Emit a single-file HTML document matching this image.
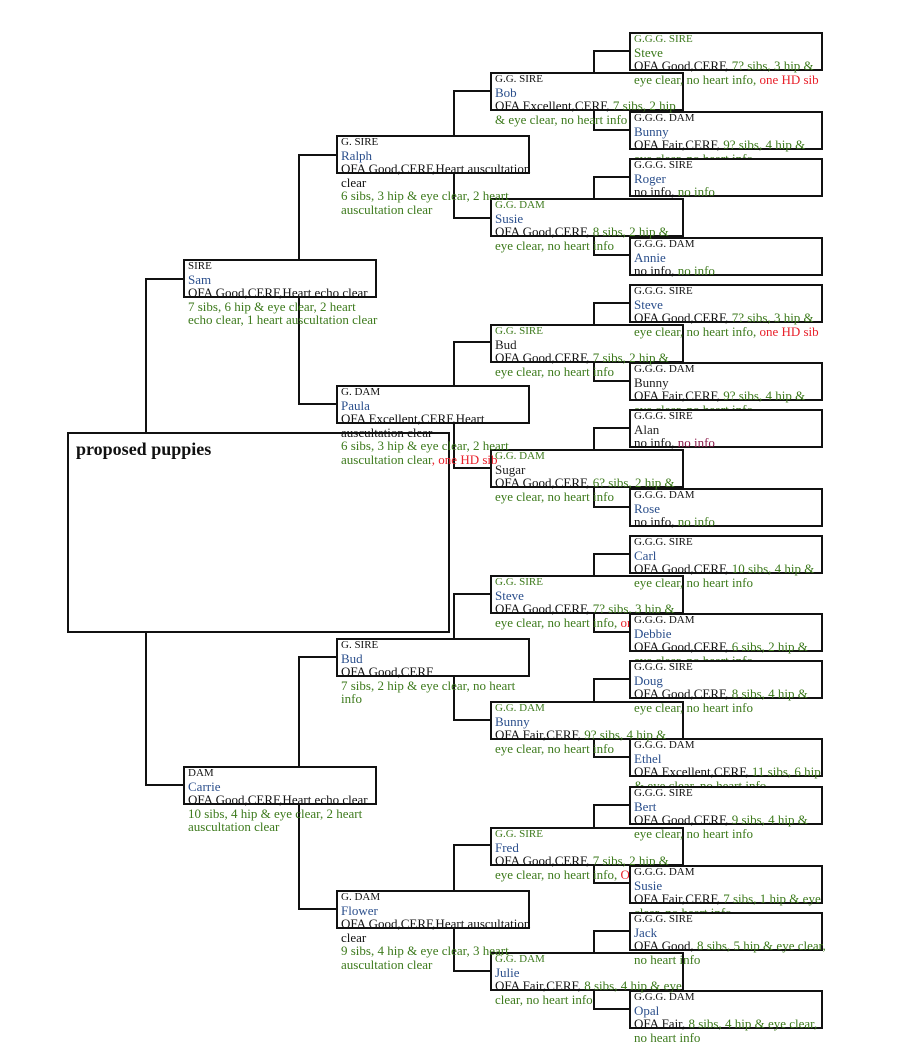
<!DOCTYPE html>
<html><head><meta charset="utf-8"><style>
body{margin:0;background:#fff;width:900px;height:1058px;position:relative;overflow:hidden;font-family:"Liberation Serif",serif}
.v{position:absolute;width:2px;background:#111}
.h{position:absolute;height:2px;background:#111}
.n{position:absolute}
.b{position:absolute;left:0;top:0;height:39px;box-sizing:border-box;border:2px solid #111;background:#fff}
.t{position:absolute;left:5px;top:1px;white-space:nowrap;color:#111;z-index:2}
.lo .t{z-index:auto}
.l{font-size:11px;line-height:12.5px}
.m{font-size:13px;line-height:13.5px;color:#2b4f8c}
.o{font-size:13px;line-height:13.5px}
.g{color:#3d7a1c}.r{color:#e8202a}.p{color:#8a1a4a}.k{color:#222}
.G3{left:629px;width:194px}.G2{left:490px;width:194px}.G1{left:336px;width:194px}.G0{left:183px;width:194px}
</style></head><body>
<div class="v" style="left:145px;top:279px;height:507px"></div>
<div class="h" style="left:145px;top:278px;width:38px"></div>
<div class="h" style="left:145px;top:784px;width:38px"></div>
<div class="v" style="left:298px;top:155px;height:250px"></div>
<div class="h" style="left:298px;top:154px;width:38px"></div>
<div class="h" style="left:298px;top:403px;width:38px"></div>
<div class="v" style="left:298px;top:657px;height:253px"></div>
<div class="h" style="left:298px;top:656px;width:38px"></div>
<div class="h" style="left:298px;top:908px;width:38px"></div>

<div class="v" style="left:453px;top:91px;height:128px"></div>
<div class="h" style="left:453px;top:90px;width:37px"></div>
<div class="h" style="left:453px;top:217px;width:37px"></div>
<div class="v" style="left:453px;top:342px;height:127px"></div>
<div class="h" style="left:453px;top:341px;width:37px"></div>
<div class="h" style="left:453px;top:467px;width:37px"></div>
<div class="v" style="left:453px;top:594px;height:127px"></div>
<div class="h" style="left:453px;top:593px;width:37px"></div>
<div class="h" style="left:453px;top:719px;width:37px"></div>
<div class="v" style="left:453px;top:845px;height:127px"></div>
<div class="h" style="left:453px;top:844px;width:37px"></div>
<div class="h" style="left:453px;top:970px;width:37px"></div>

<div class="v" style="left:593px;top:51px;height:80px"></div>
<div class="h" style="left:593px;top:50px;width:36px"></div>
<div class="h" style="left:593px;top:129px;width:36px"></div>
<div class="v" style="left:593px;top:177px;height:79px"></div>
<div class="h" style="left:593px;top:176px;width:36px"></div>
<div class="h" style="left:593px;top:254px;width:36px"></div>
<div class="v" style="left:593px;top:303px;height:79px"></div>
<div class="h" style="left:593px;top:302px;width:36px"></div>
<div class="h" style="left:593px;top:380px;width:36px"></div>
<div class="v" style="left:593px;top:428px;height:80px"></div>
<div class="h" style="left:593px;top:427px;width:36px"></div>
<div class="h" style="left:593px;top:506px;width:36px"></div>
<div class="v" style="left:593px;top:554px;height:79px"></div>
<div class="h" style="left:593px;top:553px;width:36px"></div>
<div class="h" style="left:593px;top:631px;width:36px"></div>
<div class="v" style="left:593px;top:679px;height:79px"></div>
<div class="h" style="left:593px;top:678px;width:36px"></div>
<div class="h" style="left:593px;top:756px;width:36px"></div>
<div class="v" style="left:593px;top:805px;height:79px"></div>
<div class="h" style="left:593px;top:804px;width:36px"></div>
<div class="h" style="left:593px;top:882px;width:36px"></div>
<div class="v" style="left:593px;top:931px;height:79px"></div>
<div class="h" style="left:593px;top:930px;width:36px"></div>
<div class="h" style="left:593px;top:1008px;width:36px"></div>

<div class="n G3" style="top:32px"><div class="b" style="width:194px"></div><div class="t"><div class="l g">G.G.G. SIRE</div><div class="m g">Steve</div><div class="o">OFA Good,CERF,<span class="g"> 7? sibs, 3 hip &amp;</span><br><span class="g">eye clear, no heart info, </span><span class="r">one HD sib</span></div></div></div>
<div class="n G2" style="top:72px"><div class="b" style="width:194px"></div><div class="t"><div class="l">G.G. SIRE</div><div class="m">Bob</div><div class="o">OFA Excellent,CERF,<span class="g"> 7 sibs, 2 hip</span><br><span class="g">&amp; eye clear, no heart info</span></div></div></div>
<div class="n G3 lo" style="top:111px"><div class="b" style="width:194px"></div><div class="t"><div class="l">G.G.G. DAM</div><div class="m">Bunny</div><div class="o">OFA Fair,CERF,<span class="g"> 9? sibs, 4 hip &amp;</span><br><span class="g">eye clear, no heart info</span></div></div></div>
<div class="n G1" style="top:135px"><div class="b" style="width:194px"></div><div class="t"><div class="l">G. SIRE</div><div class="m">Ralph</div><div class="o">OFA Good,CERF,Heart auscultation<br>clear<br><span class="g">6 sibs, 3 hip &amp; eye clear, 2 heart<br>auscultation clear</span></div></div></div>
<div class="n G3" style="top:158px"><div class="b" style="width:194px"></div><div class="t"><div class="l">G.G.G. SIRE</div><div class="m">Roger</div><div class="o">no info,<span class="g"> no info</span></div></div></div>
<div class="n G2" style="top:198px"><div class="b" style="width:194px"></div><div class="t"><div class="l g">G.G. DAM</div><div class="m">Susie</div><div class="o">OFA Good,CERF,<span class="g"> 8 sibs, 2 hip &amp;</span><br><span class="g">eye clear, no heart info</span></div></div></div>
<div class="n G3 lo" style="top:237px"><div class="b" style="width:194px"></div><div class="t"><div class="l">G.G.G. DAM</div><div class="m">Annie</div><div class="o">no info,<span class="g"> no info</span></div></div></div>
<div class="n G0" style="top:259px"><div class="b" style="width:194px"></div><div class="t"><div class="l">SIRE</div><div class="m">Sam</div><div class="o">OFA Good,CERF,Heart echo clear<br><span class="g">7 sibs, 6 hip &amp; eye clear, 2 heart<br>echo clear, 1 heart auscultation clear</span></div></div></div>
<div class="n G3" style="top:284px"><div class="b" style="width:194px"></div><div class="t"><div class="l">G.G.G. SIRE</div><div class="m">Steve</div><div class="o">OFA Good,CERF,<span class="g"> 7? sibs, 3 hip &amp;</span><br><span class="g">eye clear, no heart info, </span><span class="r">one HD sib</span></div></div></div>
<div class="n G2" style="top:324px"><div class="b" style="width:194px"></div><div class="t"><div class="l g">G.G. SIRE</div><div class="m k">Bud</div><div class="o">OFA Good,CERF,<span class="g"> 7 sibs, 2 hip &amp;</span><br><span class="g">eye clear, no heart info</span></div></div></div>
<div class="n G3 lo" style="top:362px"><div class="b" style="width:194px"></div><div class="t"><div class="l">G.G.G. DAM</div><div class="m k">Bunny</div><div class="o">OFA Fair,CERF,<span class="g"> 9? sibs, 4 hip &amp;</span><br><span class="g">eye clear, no heart info</span></div></div></div>
<div class="n lo" style="left:67px;top:432px;width:383px"><div class="b" style="width:383px;height:201px"></div><div class="t" style="left:9px;top:7px;font-size:18px;font-weight:bold;line-height:21px">proposed puppies</div></div>
<div class="n G1" style="top:385px"><div class="b" style="width:194px"></div><div class="t"><div class="l">G. DAM</div><div class="m">Paula</div><div class="o">OFA Excellent,CERF,Heart<br>auscultation clear<br><span class="g">6 sibs, 3 hip &amp; eye clear, 2 heart<br>auscultation clear</span><span class="r">, one HD sib</span></div></div></div>
<div class="n G3" style="top:409px"><div class="b" style="width:194px"></div><div class="t"><div class="l">G.G.G. SIRE</div><div class="m k">Alan</div><div class="o">no info,<span class="p"> no info</span></div></div></div>
<div class="n G2" style="top:449px"><div class="b" style="width:194px"></div><div class="t"><div class="l g">G.G. DAM</div><div class="m k">Sugar</div><div class="o">OFA Good,CERF,<span class="g"> 6? sibs, 2 hip &amp;</span><br><span class="g">eye clear, no heart info</span></div></div></div>
<div class="n G3 lo" style="top:488px"><div class="b" style="width:194px"></div><div class="t"><div class="l">G.G.G. DAM</div><div class="m">Rose</div><div class="o">no info,<span class="g"> no info</span></div></div></div>
<div class="n G3" style="top:535px"><div class="b" style="width:194px"></div><div class="t"><div class="l">G.G.G. SIRE</div><div class="m">Carl</div><div class="o">OFA Good,CERF,<span class="g"> 10 sibs, 4 hip &amp;</span><br><span class="g">eye clear, no heart info</span></div></div></div>
<div class="n G2 lo" style="top:575px"><div class="b" style="width:194px"></div><div class="t"><div class="l g">G.G. SIRE</div><div class="m">Steve</div><div class="o">OFA Good,CERF,<span class="g"> 7? sibs, 3 hip &amp;</span><br><span class="g">eye clear, no heart info, </span><span class="r">one HD sib</span></div></div></div>
<div class="n G3 lo" style="top:613px"><div class="b" style="width:194px"></div><div class="t"><div class="l">G.G.G. DAM</div><div class="m">Debbie</div><div class="o">OFA Good,CERF,<span class="g"> 6 sibs, 2 hip &amp;</span><br><span class="g">eye clear, no heart info</span></div></div></div>
<div class="n G1" style="top:638px"><div class="b" style="width:194px"></div><div class="t"><div class="l">G. SIRE</div><div class="m">Bud</div><div class="o">OFA Good,CERF<br><span class="g">7 sibs, 2 hip &amp; eye clear, no heart<br>info</span></div></div></div>
<div class="n G3" style="top:660px"><div class="b" style="width:194px"></div><div class="t"><div class="l">G.G.G. SIRE</div><div class="m">Doug</div><div class="o">OFA Good,CERF,<span class="g"> 8 sibs, 4 hip &amp;</span><br><span class="g">eye clear, no heart info</span></div></div></div>
<div class="n G2" style="top:701px"><div class="b" style="width:194px"></div><div class="t"><div class="l g">G.G. DAM</div><div class="m">Bunny</div><div class="o">OFA Fair,CERF,<span class="g"> 9? sibs, 4 hip &amp;</span><br><span class="g">eye clear, no heart info</span></div></div></div>
<div class="n G3 lo" style="top:738px"><div class="b" style="width:194px"></div><div class="t"><div class="l">G.G.G. DAM</div><div class="m">Ethel</div><div class="o">OFA Excellent,CERF,<span class="g"> 11 sibs, 6 hip</span><br><span class="g">&amp; eye clear, no heart info</span></div></div></div>
<div class="n G0" style="top:766px"><div class="b" style="width:194px"></div><div class="t"><div class="l">DAM</div><div class="m">Carrie</div><div class="o">OFA Good,CERF,Heart echo clear<br><span class="g">10 sibs, 4 hip &amp; eye clear, 2 heart<br>auscultation clear</span></div></div></div>
<div class="n G3" style="top:786px"><div class="b" style="width:194px"></div><div class="t"><div class="l">G.G.G. SIRE</div><div class="m">Bert</div><div class="o">OFA Good,CERF,<span class="g"> 9 sibs, 4 hip &amp;</span><br><span class="g">eye clear, no heart info</span></div></div></div>
<div class="n G2 lo" style="top:827px"><div class="b" style="width:194px"></div><div class="t"><div class="l g">G.G. SIRE</div><div class="m">Fred</div><div class="o">OFA Good,CERF,<span class="g"> 7 sibs, 2 hip &amp;</span><br><span class="g">eye clear, no heart info, </span><span class="r">One HD sib</span></div></div></div>
<div class="n G3 lo" style="top:865px"><div class="b" style="width:194px"></div><div class="t"><div class="l">G.G.G. DAM</div><div class="m">Susie</div><div class="o">OFA Fair,CERF,<span class="g"> 7 sibs, 1 hip &amp; eye</span><br><span class="g">clear, no heart info</span></div></div></div>
<div class="n G1" style="top:890px"><div class="b" style="width:194px"></div><div class="t"><div class="l">G. DAM</div><div class="m">Flower</div><div class="o">OFA Good,CERF,Heart auscultation<br>clear<br><span class="g">9 sibs, 4 hip &amp; eye clear, 3 heart<br>auscultation clear</span></div></div></div>
<div class="n G3" style="top:912px"><div class="b" style="width:194px"></div><div class="t"><div class="l">G.G.G. SIRE</div><div class="m">Jack</div><div class="o">OFA Good,<span class="g"> 8 sibs, 5 hip &amp; eye clear,</span><br><span class="g">no heart info</span></div></div></div>
<div class="n G2" style="top:952px"><div class="b" style="width:194px"></div><div class="t"><div class="l g">G.G. DAM</div><div class="m">Julie</div><div class="o">OFA Fair,CERF,<span class="g"> 8 sibs, 4 hip &amp; eye</span><br><span class="g">clear, no heart info</span></div></div></div>
<div class="n G3" style="top:990px"><div class="b" style="width:194px"></div><div class="t"><div class="l">G.G.G. DAM</div><div class="m">Opal</div><div class="o">OFA Fair,<span class="g"> 8 sibs, 4 hip &amp; eye clear,</span><br><span class="g">no heart info</span></div></div></div>
</body></html>
